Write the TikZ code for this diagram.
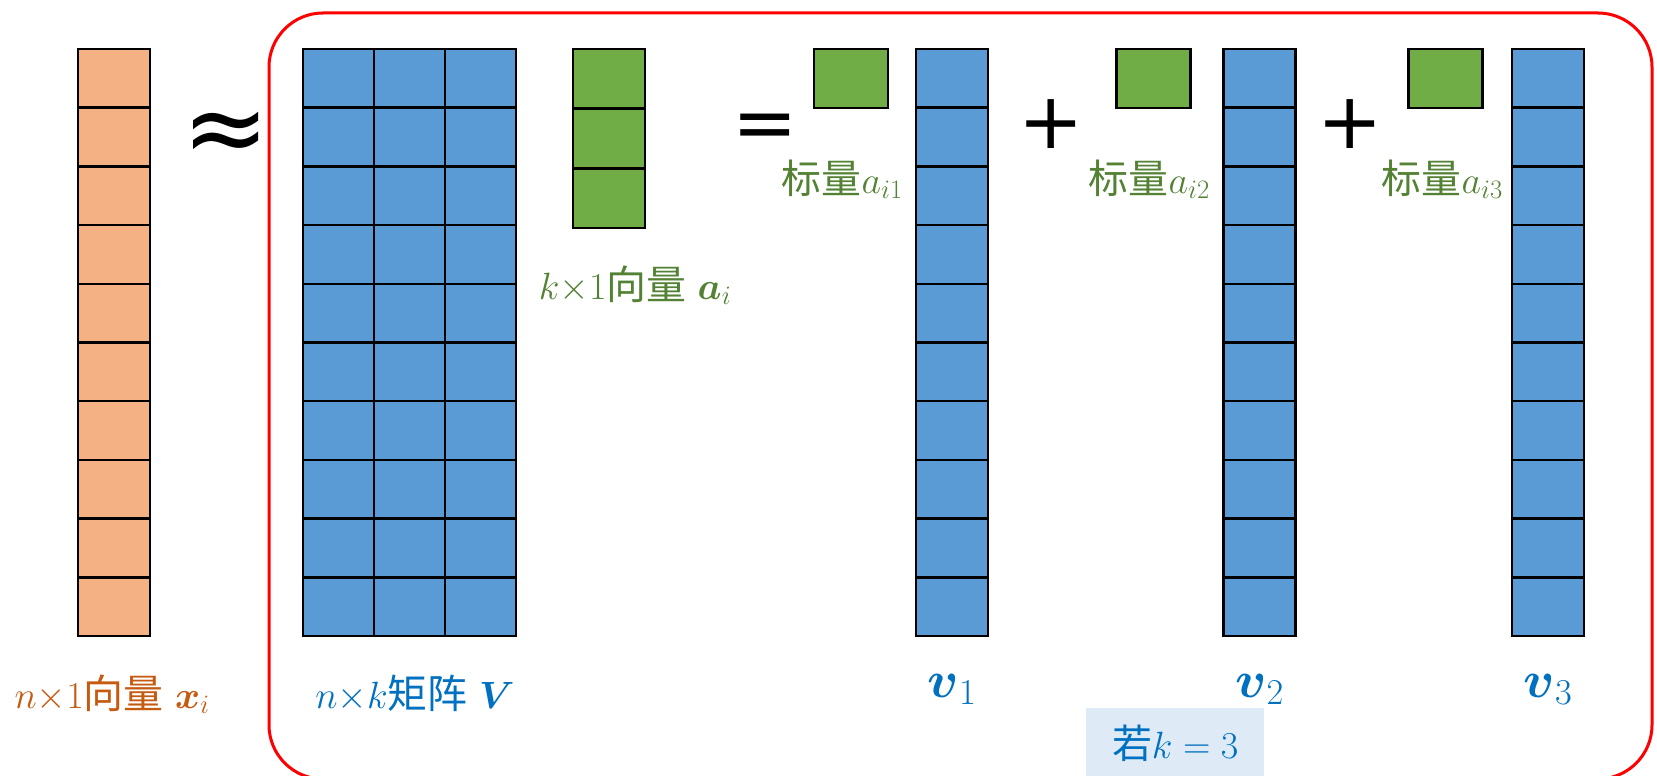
\RequirePackage{fix-cm}
\documentclass[tikz,border=0pt]{standalone}
\usepackage{amsmath}
\usepackage{fontspec}
\newfontfamily\cjk[Scale=1.05]{Noto Sans CJK SC}
\newfontfamily\opfont{DejaVu Sans}
\definecolor{vecorange}{HTML}{F4B183}
\definecolor{matblue}{HTML}{5B9BD5}
\definecolor{coefgreen}{HTML}{70AD47}
\definecolor{txtorange}{HTML}{C55A11}
\definecolor{txtblue}{HTML}{0070C0}
\definecolor{txtgreen}{HTML}{548235}
\definecolor{notebg}{HTML}{DEEBF7}
\tikzset{
  cell/.style={draw=black, line width=2.5pt, minimum width=72pt,
    minimum height=58.7pt, inner sep=0pt, outer sep=0pt},
  lbl/.style={inner sep=0pt, font=\fontsize{38}{44}\selectfont},
  opsign/.style={inner sep=0pt, font=\opfont\fontsize{78}{88}\selectfont},
}

\begin{document}
\begin{tikzpicture}[x=1pt, y=-1pt]
  \useasboundingbox (0,0) rectangle (1657,776);
  % red frame round V a_i and the sum
  \draw[red, line width=3pt, rounded corners=54pt] (269,13) rectangle (1652,779);

  % x_i
  \foreach \r in {1,...,10}
    \node[cell, fill=vecorange] (x\r) at (114, {49+58.7*(\r-0.5)}) {};
  \node[opsign, font=\opfont\fontsize{104}{110}\selectfont] (approx) at (226,138) {≈};

  % V
  \foreach \c/\cx in {1/338.5, 2/409.5, 3/480.5}
    \foreach \r in {1,...,10}
      \node[cell, fill=matblue, minimum width=71pt] (V\r-\c) at (\cx, {49+58.7*(\r-0.5)}) {};

  % a_i
  \foreach \r in {1,2,3}
    \node[cell, fill=coefgreen, minimum height=59.7pt] (a\r) at (609, {49+59.7*(\r-0.5)}) {};
  \node[lbl, text=txtgreen, anchor=base] (alabel) at (635,299) {$k{\times}1${\cjk 向量} $\boldsymbol{a}_i$};

  \node[opsign] (eq) at (765,132) {=};
  \node[opsign] (plus1) at (1051,124) {+};
  \node[opsign] (plus2) at (1350,124) {+};

  % scalar times column
  \foreach \k/\sx/\vx/\lx in {1/851/952/903, 2/1153.5/1259.5/1210, 3/1445.5/1548/1503} {
    \node[cell, fill=coefgreen, minimum width=74pt, minimum height=59pt] (s\k) at (\sx, 78.5) {};
    \foreach \r in {1,...,10}
      \node[cell, fill=matblue] (v\k-\r) at (\vx, {49+58.7*(\r-0.5)}) {};
    \node[lbl, text=txtgreen, anchor=base east] (slabel\k) at (\lx,193) {{\cjk 标量}$a_{i\k}$};
    \node[lbl, font=\fontsize{52}{56}\selectfont, text=txtblue, anchor=base] (vlabel\k) at (\vx,697) {$\boldsymbol{v}_\k$};
  }

  % bottom labels
  \node[lbl, text=txtorange, anchor=base] (xlabel) at (112,708) {$n{\times}1${\cjk 向量} $\boldsymbol{x}_i$};
  \node[lbl, text=txtblue, anchor=base] (Vlabel) at (415,708) {$n{\times}k${\cjk 矩阵} $\boldsymbol{V}$};
  \node[lbl, fill=notebg, text=txtblue, minimum width=178pt, minimum height=70pt, anchor=north west] (note) at (1086,708) {{\cjk 若}$k=3$};
\end{tikzpicture}
\end{document}
